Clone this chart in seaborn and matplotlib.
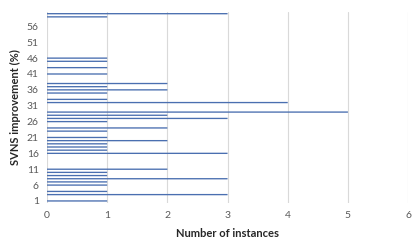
import matplotlib
matplotlib.use("Agg")
import matplotlib.pyplot as plt
import seaborn as sns
import pandas as pd

# SVNS improvement (%) categories and number of instances in each
improvement = [1, 3, 4, 6, 7, 8, 9, 10, 11,
               16, 17, 18, 19, 20, 21,
               23, 24, 26, 27, 28, 29,
               32, 33, 35, 36, 37, 38,
               41, 43, 45, 46,
               59, 60]
instances = [1, 3, 1, 1, 1, 3, 1, 1, 2,
             3, 1, 1, 1, 2, 1,
             1, 2, 1, 3, 2, 5,
             4, 1, 1, 2, 1, 2,
             1, 1, 1, 1,
             1, 3]

y_ticks = list(range(1, 57, 5))
x_ticks = list(range(0, 7))

df = pd.DataFrame({"improvement": improvement, "instances": instances})

sns.set_style("white")
plt.rcParams["font.family"] = ["Lato", "DejaVu Sans"]

fig = plt.figure(figsize=(4.16, 2.47), dpi=100)
ax = fig.add_axes([0.113, 0.18, 0.868, 0.771])

sns.barplot(data=df, x="instances", y="improvement", orient="h",
            native_scale=True, width=0.42, color="#4a6fb0",
            saturation=1, linewidth=0, ax=ax)

# thin bars vanish when snapped to the pixel grid
for p in ax.patches:
    p.set_snap(False)

ax.set_xlim(0, 6)
ax.set_ylim(0.5, 60.5)
ax.set_xticks(x_ticks)
ax.set_yticks(y_ticks)
ax.set_xticklabels([str(t) for t in x_ticks], fontsize=7.5, color="#595959")
ax.set_yticklabels([str(t) for t in y_ticks], fontsize=7.5, color="#595959")
ax.tick_params(length=0, pad=6)

ax.grid(axis="x", color="#d9d9d9", linewidth=0.8, linestyle="-")
ax.set_axisbelow(True)
for s in ax.spines.values():
    s.set_visible(False)

ax.set_xlabel("Number of instances", fontsize=8, fontweight="bold", labelpad=6)
ax.set_ylabel("SVNS improvement (%)", fontsize=8, fontweight="bold", labelpad=4)

fig.savefig("out.png", dpi=100)
